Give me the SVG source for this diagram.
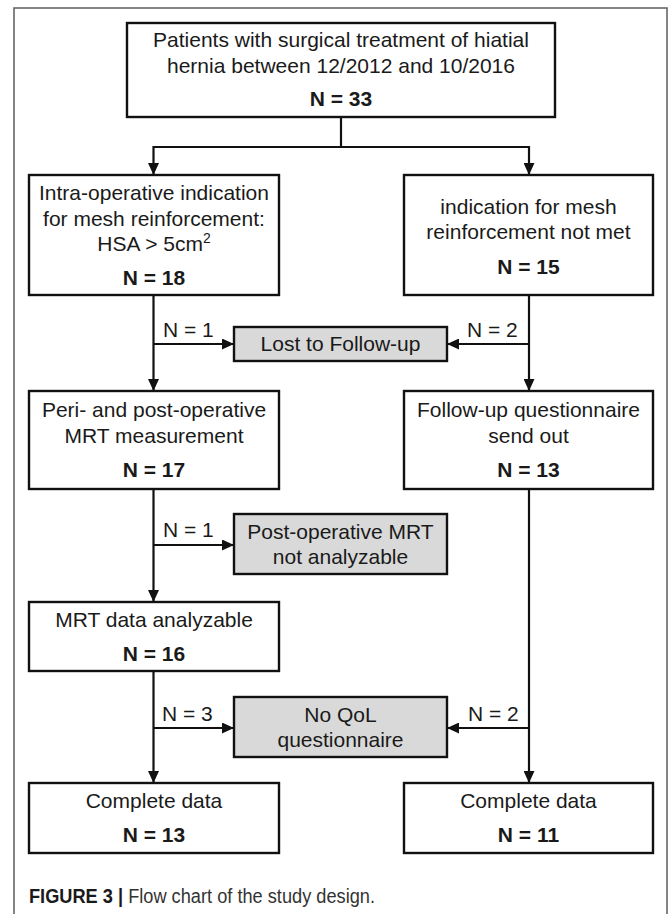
<svg xmlns="http://www.w3.org/2000/svg" width="669" height="914" viewBox="0 0 669 914">
  <style>
    .box { fill: #ffffff; stroke: #111111; stroke-width: 2.4; }
    .grey { fill: #d9d9d9; stroke: #111111; stroke-width: 2.4; }
    .t { font-family: "Liberation Sans", Arial, sans-serif; font-size: 21px; fill: #1a1a1a; text-anchor: middle; }
    .b { font-weight: bold; }
    .lbl { font-family: "Liberation Sans", Arial, sans-serif; font-size: 21px; fill: #1a1a1a; }
    .con { fill: none; stroke: #111111; stroke-width: 2.2; }
    .cap { font-family: "Liberation Sans", Arial, sans-serif; font-size: 20px; fill: #333333; }
  </style>
  <defs>
    <marker id="arr" viewBox="0 0 12 11" markerWidth="12" markerHeight="11" refX="12" refY="5.5" orient="auto" markerUnits="userSpaceOnUse">
      <path d="M0,0 L12,5.5 L0,11 z" fill="#111111"/>
    </marker>
  </defs>
  <rect width="669" height="914" fill="#ffffff"/>
  <rect x="14" y="8" width="653" height="930" fill="none" stroke="#666666" stroke-width="1.6"/>

  <g id="connectors">
    <path class="con" d="M341,117 V147"/>
    <path class="con" d="M153.5,147 H529"/>
    <path class="con" d="M153.5,146 V175" marker-end="url(#arr)"/>
    <path class="con" d="M529,146 V175" marker-end="url(#arr)"/>
    <path class="con" d="M153.5,295 V391" marker-end="url(#arr)"/>
    <path class="con" d="M153.5,344 H234" marker-end="url(#arr)"/>
    <path class="con" d="M529,295 V391" marker-end="url(#arr)"/>
    <path class="con" d="M529,344 H447" marker-end="url(#arr)"/>
    <path class="con" d="M153.5,489 V602" marker-end="url(#arr)"/>
    <path class="con" d="M153.5,545 H234" marker-end="url(#arr)"/>
    <path class="con" d="M153.5,671 V783" marker-end="url(#arr)"/>
    <path class="con" d="M153.5,728 H234" marker-end="url(#arr)"/>
    <path class="con" d="M529,489 V783" marker-end="url(#arr)"/>
    <path class="con" d="M529,728 H447" marker-end="url(#arr)"/>
    <text class="lbl" x="163" y="337">N = 1</text>
    <text class="lbl" x="467" y="337">N = 2</text>
    <text class="lbl" x="163" y="537">N = 1</text>
    <text class="lbl" x="162" y="721">N = 3</text>
    <text class="lbl" x="468" y="721">N = 2</text>
  </g>

  <g id="n-patients">
    <rect class="box" x="127" y="23" width="428" height="94"/>
    <text class="t" x="341" y="47">Patients with surgical treatment of hiatial</text>
    <text class="t" x="341" y="73">hernia between 12/2012 and 10/2016</text>
    <text class="t b" x="341" y="106">N = 33</text>
  </g>

  <g id="n-mesh">
    <rect class="box" x="29" y="175" width="250" height="120"/>
    <text class="t" x="154" y="200">Intra-operative indication</text>
    <text class="t" x="154" y="226">for mesh reinforcement:</text>
    <text class="t" x="154" y="251">HSA &gt; 5cm<tspan font-size="14" dy="-8">2</tspan></text>
    <text class="t b" x="154" y="285">N = 18</text>
  </g>

  <g id="n-nomesh">
    <rect class="box" x="404" y="175" width="249" height="120"/>
    <text class="t" x="528.5" y="214">indication for mesh</text>
    <text class="t" x="528.5" y="239">reinforcement not met</text>
    <text class="t b" x="528.5" y="274">N = 15</text>
  </g>

  <g id="n-lost">
    <rect class="grey" x="234" y="327" width="213" height="34"/>
    <text class="t" x="340.5" y="351">Lost to Follow-up</text>
  </g>

  <g id="n-mrt">
    <rect class="box" x="29" y="391" width="250" height="98"/>
    <text class="t" x="154" y="417">Peri- and post-operative</text>
    <text class="t" x="154" y="443">MRT measurement</text>
    <text class="t b" x="154" y="477">N = 17</text>
  </g>

  <g id="n-questionnaire">
    <rect class="box" x="404" y="391" width="249" height="98"/>
    <text class="t" x="528.5" y="417">Follow-up questionnaire</text>
    <text class="t" x="528.5" y="443">send out</text>
    <text class="t b" x="528.5" y="477">N = 13</text>
  </g>

  <g id="n-notanalyzable">
    <rect class="grey" x="234" y="514" width="213" height="60"/>
    <text class="t" x="340.5" y="539">Post-operative MRT</text>
    <text class="t" x="340.5" y="564">not analyzable</text>
  </g>

  <g id="n-analyzable">
    <rect class="box" x="29" y="602" width="250" height="69"/>
    <text class="t" x="154" y="627">MRT data analyzable</text>
    <text class="t b" x="154" y="661">N = 16</text>
  </g>

  <g id="n-noqol">
    <rect class="grey" x="234" y="697" width="213" height="60"/>
    <text class="t" x="340.5" y="722">No QoL</text>
    <text class="t" x="340.5" y="747">questionnaire</text>
  </g>

  <g id="n-complete-left">
    <rect class="box" x="29" y="783" width="250" height="70"/>
    <text class="t" x="154" y="808">Complete data</text>
    <text class="t b" x="154" y="842">N = 13</text>
  </g>

  <g id="n-complete-right">
    <rect class="box" x="404" y="783" width="249" height="70"/>
    <text class="t" x="528.5" y="808">Complete data</text>
    <text class="t b" x="528.5" y="842">N = 11</text>
  </g>

  <text class="cap" x="29" y="903" textLength="346" lengthAdjust="spacingAndGlyphs"><tspan font-weight="bold" fill="#1a1a1a">FIGURE 3 |</tspan> Flow chart of the study design.</text>
</svg>
